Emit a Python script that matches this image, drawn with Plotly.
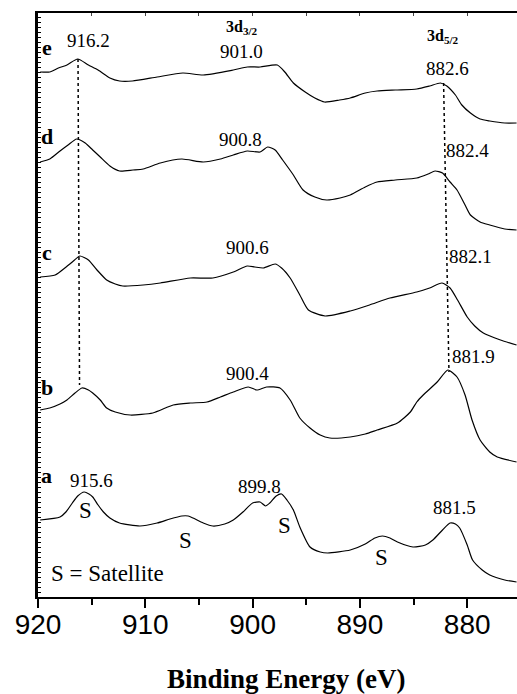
import plotly.graph_objects as go

# ---- data (binding energy eV, intensity a.u.) ----
e_x = [919.8, 918.9, 918.1, 917.3, 916.3, 915.3, 914.4, 913.3, 912.4, 911.2, 908.9, 906.5, 904.6, 901.8, 900.5,
       899.3, 897.7, 897.0, 896.2, 895.1, 894.2, 893.3, 891.9, 890.9, 889.5, 888.4, 886.7, 884.7, 883.5, 882.5,
       881.9, 881.1, 880.5, 879.7, 878.8, 877.9, 876.5, 875.4]
e_y = [525, 525, 529, 532, 538, 532, 527, 519, 516, 516, 520, 524, 522, 527, 530,
       530, 532, 525, 514, 505, 499, 495, 497, 499, 504, 506, 507, 508, 511, 514,
       511, 502, 492, 484, 478, 476, 474, 474]

d_x = [919.8, 918.9, 917.95, 917.2, 916.4, 915.6, 914.9, 914.2, 913.3, 912.4, 911.15, 910.2, 908.6, 906.6, 904.6,
       903.0, 901.8, 900.5, 899.3, 898.6, 897.9, 897.2, 896.2, 895.3, 894.2, 893.1, 891.85, 890.9, 889.5, 888.4,
       886.7, 884.7, 883.65, 883.0, 882.3, 881.6, 880.95, 880.2, 879.7, 878.8, 877.9, 876.5, 875.4]
d_y = [435, 438, 446, 452, 458, 454, 447, 440, 431, 426, 427, 428, 434, 438, 435,
       438, 442, 446, 445, 450, 447, 437, 422, 407, 400, 397, 399, 402, 410, 415,
       417, 419, 423, 426, 424, 415, 407, 392, 382, 375, 372, 368, 367]

c_x = [919.8, 918.4, 917.5, 916.7, 916.1, 915.3, 914.5, 913.6, 912.8, 912.1, 910.2, 908.6, 905.8, 903.7, 901.8,
       900.5, 899.8, 899.0, 897.9, 897.3, 896.5, 895.6, 894.8, 893.25, 890.9, 889.1, 887.2, 884.7, 883.5, 882.35,
       881.6, 880.9, 880.0, 879.3, 878.5, 876.9, 875.4]
c_y = [320, 322, 329, 336, 341, 337, 327, 317, 313, 311, 312, 314, 319, 319, 325,
       331, 330, 329, 333, 329, 319, 302, 287, 281, 286, 292, 299, 305, 309, 314,
       309, 297, 280, 271, 264, 257, 252]

b_x = [919.8, 918.9, 917.95, 917.3, 916.55, 915.9, 915.3, 914.9, 914.2, 913.6, 912.8, 911.4, 909.3, 907.4, 905.8,
       904.25, 903.0, 901.8, 900.4, 899.6, 898.7, 897.45, 896.5, 895.6, 894.65, 893.7, 892.8, 890.9, 889.5, 888.4,
       886.5, 885.3, 884.7, 884.1, 882.8, 881.8, 880.95, 880.2, 879.55, 878.8, 877.9, 877.2, 875.4]
b_y = [187, 189, 193, 197, 204, 209, 207, 204, 197, 189, 185, 182, 184, 192, 194,
       195, 200, 205, 210, 207, 210, 209, 197, 179, 169, 162, 159, 160, 163, 167,
       174, 185, 195, 202, 215, 227, 220, 202, 177, 157, 145, 140, 135]

a_x = [919.8, 917.95, 917.4, 916.8, 916.3, 915.7, 915.25, 914.9, 914.4, 913.9, 913.3, 912.4, 910.5, 908.9, 907.7,
       906.6, 906.0, 905.55, 904.6, 903.7, 902.6, 901.8, 900.9, 900.0, 899.3, 898.8, 898.4, 897.8, 897.3, 896.8,
       896.2, 895.6, 894.65, 893.7, 893.0, 890.9, 889.5, 888.6, 887.9, 887.2, 886.5, 885.05, 883.9, 883.2, 882.3,
       881.6, 881.1, 880.7, 880.0, 879.5, 878.6, 877.9, 876.5, 875.4]
a_y = [77, 80, 85, 94, 101, 105, 103, 100, 92, 85, 79, 74, 71, 74, 78,
       81, 81, 79, 74, 71, 73, 77, 85, 94, 95, 91, 94, 101, 103, 97,
       87, 70, 50, 45, 44, 47, 53, 59, 61, 59, 55, 50, 52, 57, 67,
       74, 73, 69, 52, 37, 27, 22, 17, 15]

series = [("a", a_x, a_y), ("b", b_x, b_y), ("c", c_x, c_y), ("d", d_x, d_y), ("e", e_x, e_y)]

# guide (dotted) lines: energy and intensity endpoints
guide1_x = [916.27, 916.13]
guide1_y = [538, 212]
guide2_x = [882.2, 881.7]
guide2_y = [514, 225]

# labels
curve_labels = ["e", "d", "c", "b", "a"]
curve_label_y = [550, 461, 345, 210, 122]

peak_texts = ["916.2", "901.0", "882.6", "900.8", "882.4", "900.6", "882.1", "900.4", "881.9", "915.6", "899.8", "881.5"]
peak_tx = [915.34, 901.08, 881.88, 901.17, 879.93, 900.43, 879.74, 900.43, 879.37, 915.06, 899.4, 881.23]
peak_ty = [557, 546, 529, 458, 447, 350, 341, 224, 241, 117, 111, 90]

sat_x = [915.62, 906.21, 897.07, 888.03]
sat_y = [87, 57, 72, 40]

XMIN, XMAX = 920, 875.36

fig = go.Figure()
for name, xs, ys in series:
    fig.add_trace(go.Scatter(x=xs, y=ys, mode="lines", name=name,
                             line=dict(color="black", width=1.2, shape="spline", smoothing=0.6),
                             showlegend=False, hoverinfo="skip"))
for gx, gy in [(guide1_x, guide1_y), (guide2_x, guide2_y)]:
    fig.add_trace(go.Scatter(x=gx, y=gy, mode="lines",
                             line=dict(color="black", width=1.5, dash="dot"),
                             showlegend=False, hoverinfo="skip"))

serif = "Liberation Serif"
ann = []
for lab, ly in zip(curve_labels, curve_label_y):
    ann.append(dict(x=919.2, y=ly, text=f"<b>{lab}</b>", showarrow=False,
                    font=dict(family=serif, size=22, color="black"), xanchor="center", yanchor="middle"))
for t, tx, ty in zip(peak_texts, peak_tx, peak_ty):
    ann.append(dict(x=tx, y=ty, text=t, showarrow=False,
                    font=dict(family=serif, size=19, color="black"), xanchor="center", yanchor="middle"))
for sx, sy in zip(sat_x, sat_y):
    ann.append(dict(x=sx, y=sy, text="S", showarrow=False,
                    font=dict(family=serif, size=23, color="black"), xanchor="center", yanchor="middle"))
ann.append(dict(x=913.57, y=24, text="S = Satellite", showarrow=False,
                font=dict(family=serif, size=23, color="black"), xanchor="center", yanchor="middle"))
ann.append(dict(x=901.0, y=570, text="<b>3d<sub>3/2</sub></b>", showarrow=False,
                font=dict(family=serif, size=16, color="black"), xanchor="center", yanchor="middle"))
ann.append(dict(x=882.3, y=561, text="<b>3d<sub>5/2</sub></b>", showarrow=False,
                font=dict(family=serif, size=16, color="black"), xanchor="center", yanchor="middle"))
ann.append(dict(x=0.518, y=-0.1404, xref="paper", yref="paper", text="<b>Binding Energy (eV)</b>",
                showarrow=False, font=dict(family=serif, size=27, color="black"),
                xanchor="center", yanchor="middle"))

fig.update_layout(
    width=517, height=694,
    margin=dict(l=38, r=0, t=13, b=97),
    plot_bgcolor="white", paper_bgcolor="white",
    annotations=ann,
    xaxis=dict(range=[XMIN, XMAX], showgrid=False, zeroline=False,
               showline=True, linecolor="black", linewidth=2,
               ticks="outside", ticklen=9, tickwidth=2, tickcolor="black",
               tickvals=[920, 910, 900, 890, 880], ticklabelstandoff=-8,
               minor=dict(tickvals=[915, 905, 895, 885, 875], ticks="outside", ticklen=6, tickwidth=2, tickcolor="black"),
               tickfont=dict(family="Liberation Sans", size=28, color="black")),
    xaxis2=dict(range=[XMIN, XMAX], overlaying="x", side="top", showgrid=False, zeroline=False,
                showline=True, linecolor="black", linewidth=2,
                ticks="inside", ticklen=3, tickwidth=1, tickcolor="#444", dtick=5, tick0=920,
                showticklabels=False),
    yaxis=dict(range=[0, 584], showgrid=False, zeroline=False, showline=True, linecolor="black", linewidth=2.5,
               ticks="inside", ticklen=3, tickwidth=1, tickcolor="black", dtick=5, tick0=0,
               showticklabels=False),
)
# invisible point to activate the top axis
fig.add_trace(go.Scatter(x=[XMIN], y=[0], xaxis="x2", mode="markers", marker=dict(opacity=0),
                         showlegend=False, hoverinfo="skip"))

fig.write_html("out.html")
